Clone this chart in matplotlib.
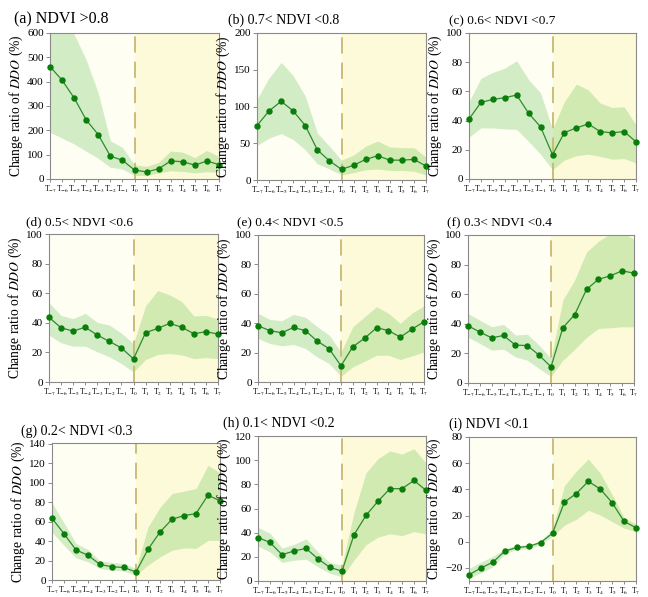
import matplotlib
matplotlib.use("Agg")
import matplotlib.pyplot as plt
import numpy as np

plt.rcParams['font.family'] = ['Liberation Serif', 'DejaVu Serif']
plt.rcParams['mathtext.fontset'] = 'stix'

# time steps T-7 ... T7
steps = list(range(-7, 8))
tick_labels = [r'T$_{%d}$' % s for s in steps]

titles = ['(a) NDVI >0.8', '(b) 0.7< NDVI <0.8', '(c) 0.6< NDVI <0.7',
          '(d) 0.5< NDVI <0.6', '(e) 0.4< NDVI <0.5', '(f) 0.3< NDVI <0.4',
          '(g) 0.2< NDVI <0.3', '(h) 0.1< NDVI <0.2', '(i) NDVI <0.1']

# mean change ratio of DDO (%)
mean_a = [462, 406, 333, 243, 182, 94, 77, 37, 29, 42, 74, 71, 57, 74, 59]
mean_b = [74, 94, 107, 94, 74, 41, 26, 14.5, 20, 28, 33, 27, 27, 28, 19]
mean_c = [41, 52.5, 54.5, 55.7, 57.5, 45, 35.7, 16.6, 31.8, 35, 37.7, 32.5, 31.6, 32.5, 25.5]
mean_d = [43.7, 36.6, 34.4, 37, 31.7, 27.4, 23, 15.6, 33.3, 36.2, 39.6, 37, 32.6, 34, 32.4]
mean_e = [38.3, 34.9, 33.5, 37.1, 34.9, 27.8, 22.6, 11, 24, 29.8, 36.9, 35, 30.5, 36, 41]
mean_f = [38.7, 34.4, 30.5, 32.1, 25.6, 25.3, 18.8, 10.9, 37.3, 46.2, 63.3, 70, 72.4, 75.8, 74.2]
mean_g = [63.5, 47.6, 30.9, 25.5, 16, 13.6, 12.9, 8.2, 31.6, 49.3, 62.5, 66.3, 68.3, 87.3, 81.5]
mean_h = [36, 31.9, 21.8, 24.8, 27, 18.3, 11.2, 8.2, 38.2, 54.3, 66, 76.4, 76.4, 83.2, 75]
mean_i = [-25.3, -20, -15.7, -7.2, -4.4, -3.6, -0.6, 6.4, 30.3, 36.8, 46.1, 40.3, 29.8, 15.5, 10.7]

# upper edge of the shaded range
upper_a = [700, 640, 595, 490, 353, 157, 130, 58, 52, 68, 115, 110, 88, 117, 92]
upper_b = [110, 139, 160, 142, 114, 64, 46, 27, 34, 46, 53, 45, 44, 44, 31]
upper_c = [53, 69, 73, 76, 81, 68, 59, 34, 53, 65, 61, 52, 49, 49.5, 37]
upper_d = [53.6, 45, 42.8, 46.4, 40.3, 38.5, 33, 26, 51.4, 61.8, 58.8, 54.3, 44.6, 45, 42.5]
upper_e = [46.7, 42.6, 41.7, 46, 44, 37.6, 31.9, 20.5, 37.6, 44.4, 51.3, 46.7, 39.9, 47, 51.7]
upper_f = [47, 42.5, 38, 39.6, 32.4, 33, 25.6, 16.5, 56, 69.7, 88.5, 95.7, 101, 102, 97]
upper_g = [79.5, 58.8, 37.7, 31.3, 19.7, 18, 17, 11.9, 54.4, 74.8, 89, 91.4, 94.1, 118, 110.4]
upper_h = [44.4, 39.5, 27.3, 30.3, 34.9, 24, 15.3, 13.1, 56.7, 89.5, 101.2, 107.7, 105, 109.4, 97.6]
upper_i = [-20.5, -15.5, -11.2, -5.4, -2.9, -2.4, 0.9, 9.7, 42.8, 54, 63.2, 52.4, 36, 18.5, 13.4]

# lower edge of the shaded range
lower_a = [192, 168, 144, 114, 85, 48, 41, 14, 15, 25, 34, 31, 25, 30, 27]
lower_b = [47, 57, 63, 55, 41, 22, 15, 7, 10, 14, 15, 13, 13, 12, 7]
lower_c = [28.6, 35, 35, 34.3, 34, 25.7, 17, 6.4, 13, 16, 17, 15.5, 13.6, 14, 11]
lower_d = [31.7, 26.5, 24.2, 24.2, 20.4, 17, 12.4, 6.8, 15.2, 18.6, 19.2, 18.3, 15.8, 16.5, 15.8]
lower_e = [29.6, 26.2, 24.6, 25.5, 22.8, 17, 12.5, 3.9, 10.3, 14.1, 18.2, 18.2, 15.3, 17.8, 20.5]
lower_f = [31, 26.7, 22.2, 22.8, 17.6, 15.4, 9.7, 4.5, 15.4, 22.8, 30.8, 36.9, 37.3, 38, 38]
lower_g = [49.3, 35.7, 22.8, 18.7, 11.9, 10.2, 9.2, 5.1, 15.3, 23.8, 30.6, 33, 32.6, 40.8, 40.8]
lower_h = [28.9, 24, 15.3, 17.2, 18, 11.7, 6.3, 3.5, 17.2, 30, 36.3, 39, 37.6, 40.9, 39]
lower_i = [-28, -23.7, -19.2, -9.2, -5.9, -5.4, -2.1, 4.1, 12.7, 17.2, 24, 20.4, 15.4, 10.4, 7.7]

means = [mean_a, mean_b, mean_c, mean_d, mean_e, mean_f, mean_g, mean_h, mean_i]
uppers = [upper_a, upper_b, upper_c, upper_d, upper_e, upper_f, upper_g, upper_h, upper_i]
lowers = [lower_a, lower_b, lower_c, lower_d, lower_e, lower_f, lower_g, lower_h, lower_i]

ylims = [(0, 600), (0, 200), (0, 100), (0, 100), (0, 100), (0, 100), (0, 141), (0, 120), (-30, 80)]
yticks = [range(0, 601, 100), range(0, 201, 50), range(0, 101, 20), range(0, 101, 20),
          range(0, 101, 20), range(0, 101, 20), range(0, 141, 20), range(0, 121, 20),
          range(-20, 81, 20)]

# axes boxes in pixels: left, top, right, bottom
W, H = 648, 597
boxes = [(50, 33, 219, 179), (257, 33, 426, 180), (469, 33, 636, 179),
         (49, 234, 218, 382), (258, 235, 424, 382), (468, 235, 634, 383),
         (52, 443, 220, 580), (258, 436, 426, 581), (469, 437, 636, 581)]
title_dx = [-36, -29, -20, -23, -21, -21, -31, -35, -20]
title_size = [11.5, 10, 9.5, 9.5, 9.5, 9.5, 10, 10, 10]

fig = plt.figure(figsize=(W / 100, H / 100), dpi=100)

for k in range(9):
    l, t, r, b = boxes[k]
    ax = fig.add_axes([l / W, 1 - b / H, (r - l) / W, (b - t) / H])
    ax.set_xlim(-7, 7)
    ax.set_ylim(*ylims[k])
    ax.axvspan(-7, 0, color='#fffef3', zorder=0, lw=0)
    ax.axvspan(0, 7, color='#fcfad8', zorder=0, lw=0)
    ax.fill_between(steps, lowers[k], uppers[k], color='#6cc55c', alpha=0.3, lw=0, zorder=1)
    ax.axvline(0, color='#c9b872', lw=1.3, dashes=(9, 5), zorder=2)
    ax.plot(steps, means[k], color='#2e8b2e', lw=0.9, marker='o', ms=3.6,
            mfc='#0a7d0a', mec='#0a7d0a', zorder=3, clip_on=False)

    ax.set_xticks(steps)
    ax.set_xticklabels(tick_labels, fontsize=5.5)
    ax.set_yticks(list(yticks[k]))
    ax.tick_params(axis='y', labelsize=8, length=3, width=0.6, color='#777777', pad=1.5)
    ax.tick_params(axis='x', length=2.5, width=0.6, color='#777777', pad=1.2)
    for sp in ax.spines.values():
        sp.set_color('#8a8a8a')
        sp.set_linewidth(0.8)
    ax.set_ylabel(r'Change ratio of $\mathit{DDO}$ (%)', fontsize=9.8, labelpad=1.5)
    ax.text(title_dx[k] / (r - l), 1.04, titles[k], transform=ax.transAxes,
            fontsize=title_size[k], ha='left', va='bottom')

fig.savefig('out.png', dpi=100, facecolor='white')
